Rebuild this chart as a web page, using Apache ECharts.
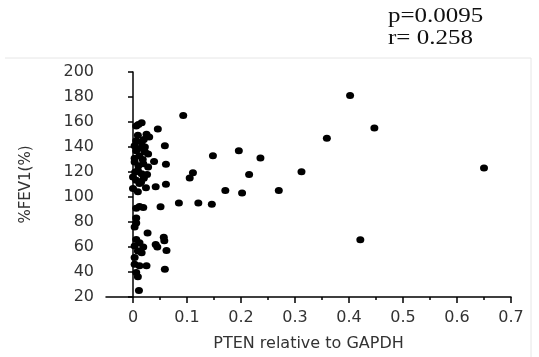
<!DOCTYPE html>
<html>
<head>
<meta charset="utf-8">
<script src="https://cdn.jsdelivr.net/npm/echarts@6/dist/echarts.min.js"></script>
<style>html,body{margin:0;padding:0;background:#fff}#c{width:539px;height:357px}</style>
</head>
<body>
<div id="c"></div>
<script>
// Data
const pten = [
  0.016,0.006,0.010,0.046,0.009,0.025,0.006,0.016,0.003,0.059,0.020,0.006,0.022,0.012,0.028,0.003,
  0.039,0.061,0.019,0.028,0.009,0.016,0.000,0.006,0.012,0.024,0.000,0.009,0.042,0.061,0.012,0.051,
  0.006,0.019,0.006,0.006,0.003,0.027,0.006,0.012,0.057,0.058,0.042,0.045,0.003,0.019,0.009,0.016,
  0.062,0.003,0.003,0.012,0.025,0.059,0.006,0.009,0.011,0.003,0.014,0.022,0.010,0.020,0.015,0.030,
  0.018,0.004,0.026,
  0.093,0.105,0.111,0.085,0.121,0.146,0.148,0.196,0.236,0.215,0.171,0.202,0.270,0.312,0.359,0.402,
  0.447,0.650,0.421
];
const fev1 = [
  159.5,156.8,158,154.5,149.5,150.3,145,143.7,141,141,146,137,136.3,133,134.5,128,
  128.4,126.3,126.6,124,121.3,118.7,116,113.4,110.8,107.4,106.8,104.2,108.2,110.2,92.4,92.2,
  91,91.6,83.2,79.2,76,71.3,66,63.4,67.9,65,62,60,60.8,60,56.9,55.5,
  57.2,51.6,46.3,45,45,42.2,39.7,36.3,25.3,131,139,140,125,115,112,148,
  130,120,118,
  165.3,115.3,119.5,95.3,95.2,94.2,133.1,137.1,131.3,118.1,105.3,103.2,105.3,120.3,147,181.3,
  155.2,123.2,65.8
];
const xMajorTicks = [0,0.1,0.2,0.3,0.4,0.5,0.6,0.7];
const xMinorTicks = [0.05,0.15,0.25,0.35,0.45,0.55,0.65];
const statLines = ['p=0.0095', 'r= 0.258'];
const xTitle = 'PTEN relative to GAPDH';
const yTitle = '%FEV1(%)';

const points = pten.map((x, i) => [x, fev1[i]]);
const font = 'DejaVu Sans';
const chart = echarts.init(document.getElementById('c'), null, {renderer: 'canvas'});
chart.setOption({
  animation: false,
  backgroundColor: '#fff',
  grid: {left: 106, top: 72, width: 405, height: 228, containLabel: false},
  xAxis: [{
    type: 'value', min: -0.05, max: 0.7, interval: 0.05,
    axisLine: {show: true, lineStyle: {color: '#000', width: 1.5}},
    axisTick: {show: true, customValues: xMajorTicks, length: 6, lineStyle: {color: '#000', width: 1.5}},
    axisLabel: {customValues: xMajorTicks, fontFamily: font, fontSize: 16, color: '#333', margin: 13,
      formatter: v => String(+v.toFixed(2))},
    splitLine: {show: false},
    name: xTitle, nameLocation: 'middle', nameGap: 39,
    nameTextStyle: {fontFamily: font, fontSize: 16, color: '#333'}
  }, {
    type: 'value', min: -0.05, max: 0.7, interval: 0.05, position: 'bottom',
    axisLine: {show: false},
    axisTick: {show: true, customValues: xMinorTicks, length: 3, lineStyle: {color: '#000', width: 1.5}},
    axisLabel: {show: false},
    splitLine: {show: false}
  }],
  yAxis: {
    type: 'value', min: 20, max: 200, interval: 20,
    axisLine: {show: true, lineStyle: {color: '#000', width: 1.5}},
    axisTick: {show: true, length: 5, lineStyle: {color: '#000', width: 1.5}},
    axisLabel: {fontFamily: font, fontSize: 16, color: '#333', margin: 12},
    splitLine: {show: false},
    name: yTitle, nameLocation: 'middle', nameGap: 72, nameRotate: 90,
    nameTextStyle: {fontFamily: font, fontSize: 15, color: '#333'}
  },
  series: [{
    type: 'scatter', xAxisIndex: 0, data: points, symbol: 'circle', symbolSize: [8, 7],
    itemStyle: {color: '#000', opacity: 1}
  }],
  graphic: [
    {type: 'line', shape: {x1: 5, y1: 58, x2: 531, y2: 58}, style: {stroke: '#e6e6e6', lineWidth: 1}},
    {type: 'line', shape: {x1: 531, y1: 58, x2: 531, y2: 357}, style: {stroke: '#e6e6e6', lineWidth: 1}},
    {type: 'text', x: 388, y: 17, scaleX: 1.25, style: {text: statLines[0], font: '20px "Liberation Serif"', fill: '#111', textVerticalAlign: 'middle'}},
    {type: 'text', x: 388, y: 39, scaleX: 1.25, style: {text: statLines[1], font: '20px "Liberation Serif"', fill: '#111', textVerticalAlign: 'middle'}}
  ]
});
</script>
</body>
</html>
